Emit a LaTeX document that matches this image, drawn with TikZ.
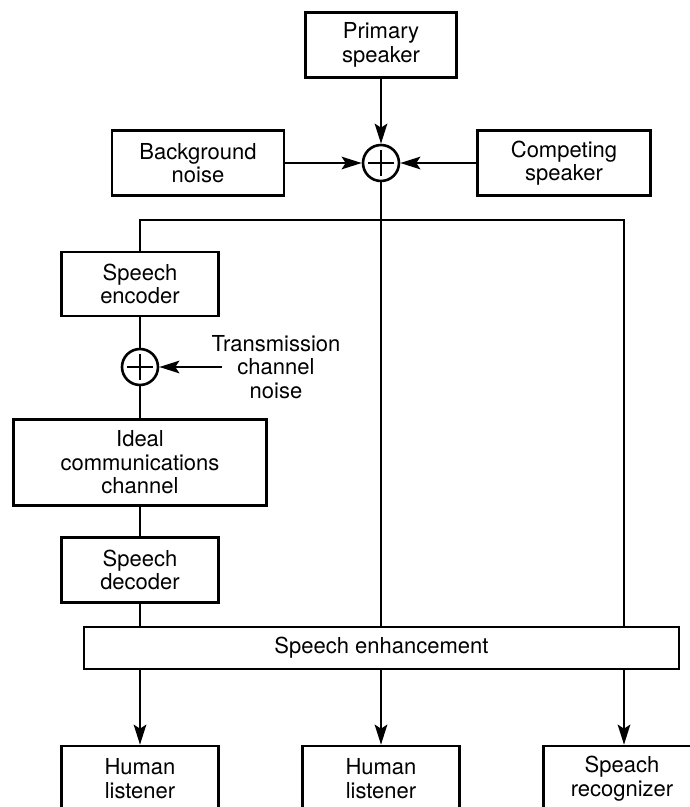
\documentclass[tikz,border=0pt]{standalone}
\usepackage{fontspec}
\setmainfont{TeX Gyre Heros}
\usetikzlibrary{arrows.meta,calc}
\begin{document}
\begin{tikzpicture}[x=1pt,y=-1pt,
  conn/.style={line width=2.6pt},
  arr/.style={conn,-{Stealth[length=20pt,width=12.5pt,inset=4pt]}},
  txt/.style={align=center,inner sep=0pt,font=\fontsize{22}{23.5}\selectfont},
  blk/.style={txt,draw,line width=2.6pt},
  sumnode/.style={draw,circle,line width=2.6pt,minimum size=36pt,inner sep=0pt}
]
\useasboundingbox (0,0) rectangle (690,807);
\clip (0,0) rectangle (690,807);

\node[blk,minimum width=151pt,minimum height=65pt] (primary) at (381,45) {Primary\\speaker};
\node[blk,minimum width=172pt,minimum height=65pt] (background) at (198,163) {Background\\noise};
\node[blk,minimum width=173pt,minimum height=65pt] (competing) at (564,163) {Competing\\speaker};
\node[sumnode] (s1) at (381,163) {};
\draw[conn] ($(s1.center)+(-13pt,0)$) -- ($(s1.center)+(13pt,0)$);
\draw[conn] ($(s1.center)+(0,-13pt)$) -- ($(s1.center)+(0,13pt)$);

\node[blk,minimum width=157pt,minimum height=64pt] (encoder) at (140,284) {Speech\\encoder};
\node[sumnode] (s2) at (140,367) {};
\draw[conn] ($(s2.center)+(-13pt,0)$) -- ($(s2.center)+(13pt,0)$);
\draw[conn] ($(s2.center)+(0,-13pt)$) -- ($(s2.center)+(0,13pt)$);
\node[txt] (noise) at (276,367) {Transmission\\channel\\noise};
\coordinate (tn) at (222,367);

\node[blk,minimum width=253pt,minimum height=86pt] (ideal) at (140,462.5) {Ideal\\communications\\channel};
\node[blk,minimum width=157pt,minimum height=65pt] (decoder) at (140,570) {Speech\\decoder};
\node[blk,minimum width=595pt,minimum height=42pt] (enh) at (381.5,648) {Speech enhancement};

\node[blk,minimum width=157pt,minimum height=65pt] (hl1) at (140,778.5) {Human\\listener};
\node[blk,minimum width=157pt,minimum height=65pt] (hl2) at (381,778.5) {Human\\listener};
\node[blk,minimum width=157pt,minimum height=65pt] (sr) at (622,778.5) {Speach\\recognizer};

\coordinate (br) at (381,220);
\coordinate (rc) at (624,220);

\draw[arr] (primary) -- (s1);
\draw[arr] (background) -- (s1);
\draw[arr] (competing) -- (s1);
\draw[conn] (s1.south) -- (s1.south |- enh.north);
\draw[conn] (encoder.north) |- (br) -- (rc) -- (rc |- enh.north);
\draw[conn] (encoder) -- (s2);
\draw[arr] (tn) -- (s2);
\draw[conn] (s2) -- (ideal);
\draw[conn] (ideal) -- (decoder);
\draw[conn] (decoder.south) -- (decoder.south |- enh.north);
\draw[arr] (hl1.north |- enh.south) -- (hl1.north);
\draw[arr] (hl2.north |- enh.south) -- (hl2.north);
\draw[arr] (rc |- enh.south) -- (rc |- sr.north);
\end{tikzpicture}
\end{document}
